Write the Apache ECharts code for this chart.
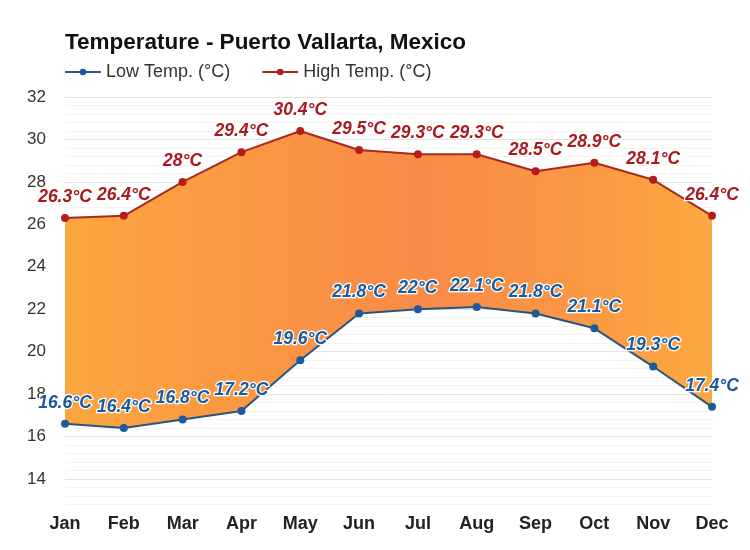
<!DOCTYPE html>
<html>
<head>
<meta charset="utf-8">
<script src="https://cdn.jsdelivr.net/npm/echarts@6/dist/echarts.min.js"></script>
<style>html,body{margin:0;padding:0;background:#fff;}#c{width:750px;height:550px;}</style>
</head>
<body>
<div id="c"></div>
<script>
var months = ['Jan','Feb','Mar','Apr','May','Jun','Jul','Aug','Sep','Oct','Nov','Dec'];
var lowTemp = [16.6,16.4,16.8,17.2,19.6,21.8,22.0,22.1,21.8,21.1,19.3,17.4];
var highTemp = [26.3,26.4,28.0,29.4,30.4,29.5,29.3,29.3,28.5,28.9,28.1,26.4];
var yTickLabels = [14,16,18,20,22,24,26,28,30,32];

var band = highTemp.map(function(h,i){ return +(h - lowTemp[i]).toFixed(2); });
var font = 'Liberation Sans, Arial, sans-serif';

function fmt(p){ return p.value + '°C'; }

var chart = echarts.init(document.getElementById('c'), null, {renderer:'canvas'});
chart.setOption({
  backgroundColor:'#fff',
  animation:false,
  title:{
    text:'Temperature - Puerto Vallarta, Mexico',
    left:65, top:31, padding:0,
    textStyle:{fontFamily:font, fontSize:22.5, fontWeight:'bold', color:'#111'}
  },
  legend:{
    data:['Low Temp. (°C)','High Temp. (°C)'],
    left:64, top:63, padding:0, itemGap:31, itemWidth:36, itemHeight:8,
    textStyle:{fontFamily:font, fontSize:18, color:'#333'}
  },
  grid:{left:65, right:38, top:97, bottom:45.5, containLabel:false},
  xAxis:{
    type:'category', data:months, boundaryGap:false,
    axisLine:{show:false}, axisTick:{show:false},
    axisLabel:{fontFamily:font, fontSize:18, fontWeight:'bold', color:'#222', margin:11},
    splitLine:{show:false}
  },
  yAxis:{
    type:'value', min:12.8, max:32, interval:0.4,
    axisLine:{show:false}, axisTick:{show:false},
    axisLabel:{
      fontFamily:font, fontSize:17, color:'#333', margin:19,
      formatter:function(v){
        var r = Math.round(v);
        if (Math.abs(v - r) < 1e-6 && yTickLabels.indexOf(r) >= 0) return String(r);
        return '';
      }
    },
    splitLine:{show:true, lineStyle:{width:1, color:['#f4f4f4','#f4f4f4','#f4f4f4','#e2e2e2','#f4f4f4']}}
  },
  series:[
    {
      name:'baseLow', type:'line', stack:'band', data:lowTemp,
      symbol:'none', lineStyle:{opacity:0}, silent:true, z:1
    },
    {
      name:'band', type:'line', stack:'band', data:band,
      symbol:'none', lineStyle:{opacity:0}, silent:true, z:1,
      areaStyle:{
        opacity:1,
        color:new echarts.graphic.LinearGradient(0,0,1,0,[
          {offset:0, color:'#fca640'},
          {offset:0.35, color:'#fa9444'},
          {offset:0.55, color:'#f98b47'},
          {offset:0.8, color:'#fa9844'},
          {offset:1, color:'#fca83f'}
        ])
      }
    },
    {
      name:'Low Temp. (°C)', type:'line', data:lowTemp, z:3,
      symbol:'circle', symbolSize:8,
      itemStyle:{color:'#1c5a9c'},
      lineStyle:{color:'#2a5580', width:2},
      label:{
        show:true, position:'top', distance:8, formatter:fmt,
        fontFamily:font, fontSize:17.5, fontWeight:'bold', fontStyle:'italic',
        color:'#1a5aa0', textBorderColor:'#fff', textBorderWidth:2.5
      }
    },
    {
      name:'High Temp. (°C)', type:'line', data:highTemp, z:3,
      symbol:'circle', symbolSize:8,
      itemStyle:{color:'#b71c1c'},
      lineStyle:{color:'#a82a1c', width:2},
      label:{
        show:true, position:'top', distance:8, formatter:fmt,
        fontFamily:font, fontSize:17.5, fontWeight:'bold', fontStyle:'italic',
        color:'#a81a20', textBorderColor:'#fff', textBorderWidth:2.5
      }
    }
  ]
});
</script>
</body>
</html>
